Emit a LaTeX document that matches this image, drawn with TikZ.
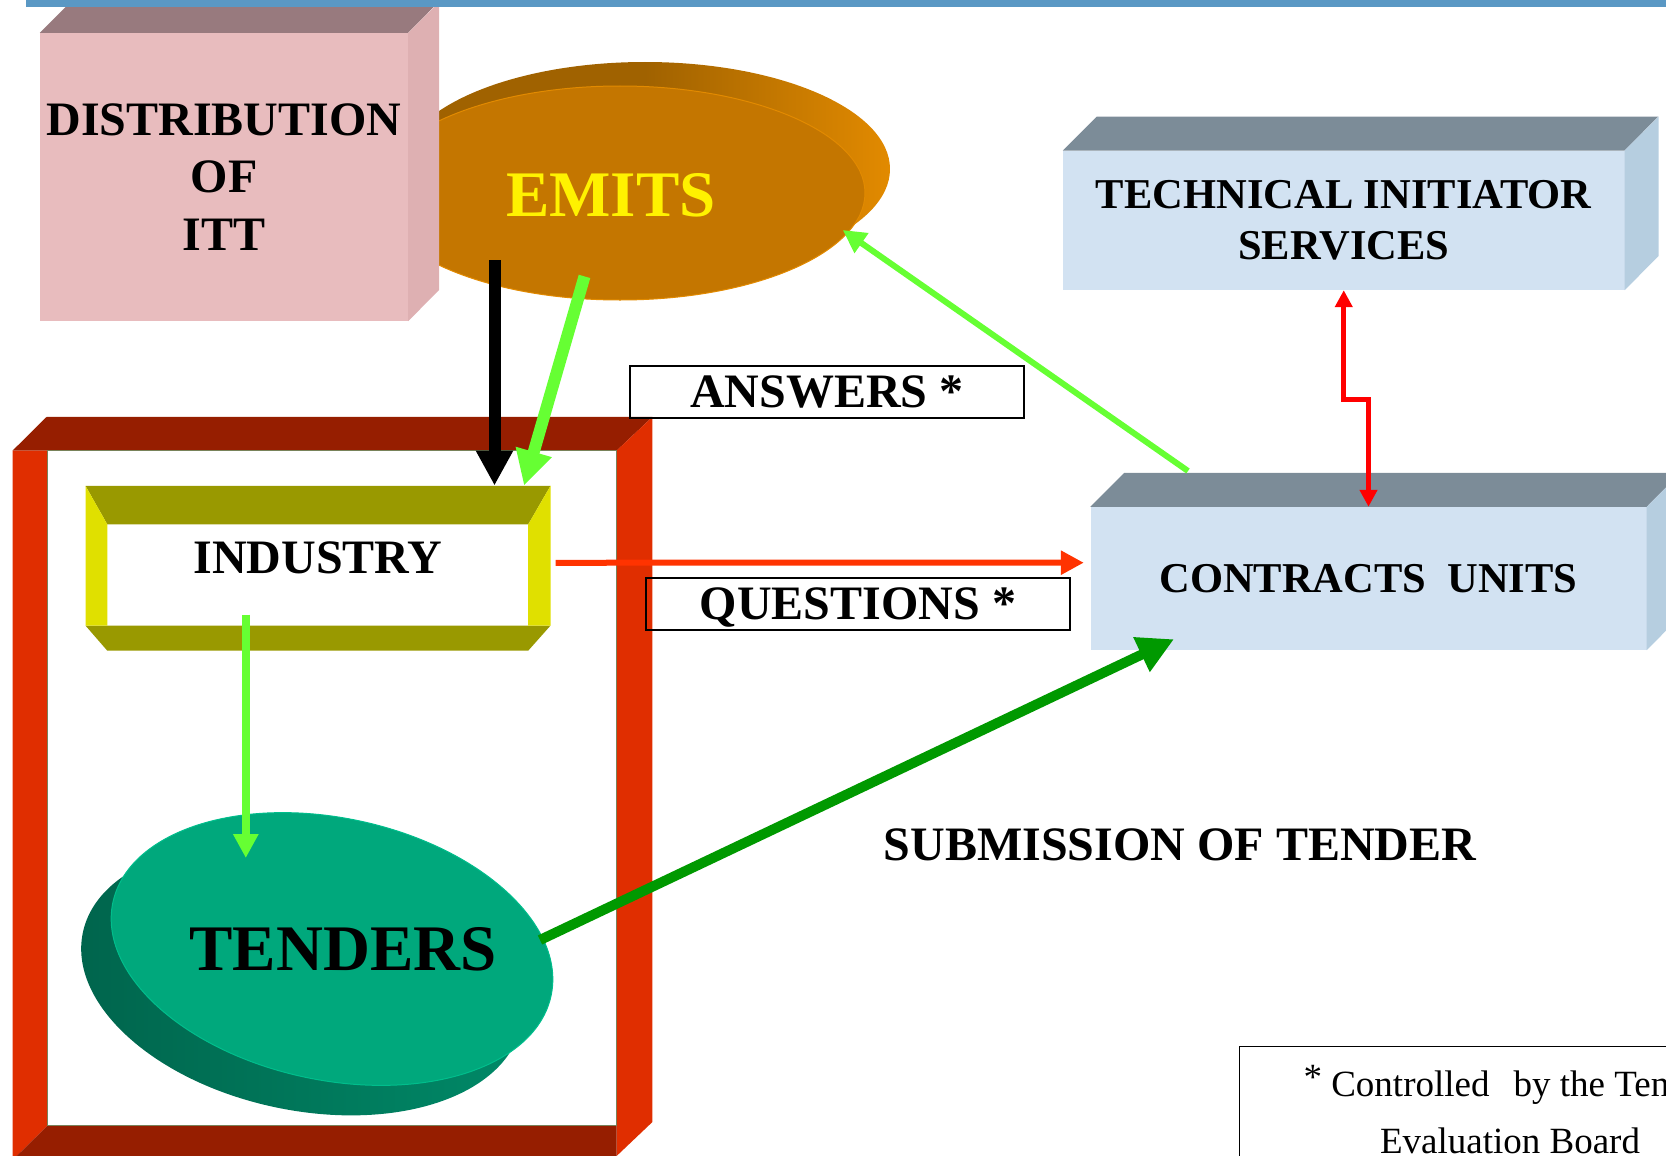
\documentclass[tikz,border=0pt]{standalone}
\usepackage{fontspec}
\setmainfont{Liberation Serif}
\usetikzlibrary{arrows.meta,calc}

\definecolor{barblue}{RGB}{90,152,196}
\definecolor{pinkfront}{RGB}{232,188,190}
\definecolor{pinktop}{RGB}{152,122,126}
\definecolor{pinkside}{RGB}{222,176,178}
\definecolor{bluefront}{RGB}{210,226,242}
\definecolor{bluetop}{RGB}{124,140,152}
\definecolor{blueside}{RGB}{182,206,224}
\definecolor{orangefront}{RGB}{196,118,0}
\definecolor{orangeback}{RGB}{160,98,0}
\definecolor{orangerim}{RGB}{226,138,0}
\definecolor{tealfront}{RGB}{0,168,124}
\definecolor{tealdark}{RGB}{0,100,76}
\definecolor{tealmid}{RGB}{0,138,104}
\definecolor{tealedge}{RGB}{0,190,140}
\definecolor{framelight}{RGB}{224,46,0}
\definecolor{framedark}{RGB}{150,30,0}
\definecolor{frameedge}{RGB}{120,130,90}
\definecolor{olivebevel}{RGB}{153,153,0}
\definecolor{yellowbevel}{RGB}{224,224,0}
\definecolor{lightgreen}{RGB}{102,255,51}
\definecolor{darkgreen}{RGB}{0,153,0}
\definecolor{qred}{RGB}{255,51,0}

\begin{document}
\begin{tikzpicture}[x=1pt, y=-1pt,
  every node/.style = {inner sep=0pt, align=center},
  bigtext/.style = {font=\bfseries\fontsize{65}{78}\selectfont},
  boxtext/.style = {font=\bfseries\fontsize{48}{57.3}\selectfont},
  bluetext/.style = {font=\bfseries\fontsize{42.5}{51}\selectfont},
  tag/.style = {draw, line width=1.8pt, minimum height=52.5pt, text depth=0pt,
    font=\bfseries\fontsize{48}{57}\selectfont},
  hd/.style = {-{Triangle[length=#1, width=#1]}},
  fatlink/.style = {line width=12pt, hd=35pt},
  slimlink/.style = {line width=6pt, hd=23pt}]

  \useasboundingbox (0,0) rectangle (1666,1156);
  \clip (0,0) rectangle (1666,1156);

  % EMITS disc, partly behind the ITT block
  \shade[left color=orangeback, right color=orangerim, middle color=orangeback]
    (645,169) ellipse [x radius=245, y radius=107];
  \filldraw[fill=orangefront, draw=orangerim, line width=1pt]
    (620,193) ellipse [x radius=245, y radius=107];
  \node[bigtext, text=yellow] (emits) at (611,195) {EMITS};

  % DISTRIBUTION OF ITT block
  \node[boxtext, fill=pinkfront, minimum width=368pt, minimum height=288pt]
    (dist) at (224,177) {DISTRIBUTION\\OF\\ITT};
  \fill[pinktop] (dist.north west) -- ++(31,-31) -- ++(368,0) -- (dist.north east) -- cycle;
  \fill[pinkside] (dist.north east) -- ++(31,-31) -- ++(0,288) -- (dist.south east) -- cycle;
  \fill[barblue] (26,0) rectangle (1666,7);

  % blue blocks
  \node[bluetext, fill=bluefront, minimum width=561.5pt, minimum height=139.3pt]
    (tech) at (1343.75,220.35) {TECHNICAL INITIATOR\\SERVICES};
  \fill[bluetop] (tech.north west) -- ++(34,-34) -- ++(561.5,0) -- (tech.north east) -- cycle;
  \fill[blueside] (tech.north east) -- ++(34,-34) -- ++(0,139.3) -- (tech.south east) -- cycle;
  \node[bluetext, fill=bluefront, minimum width=556pt, minimum height=143pt]
    (contracts) at (1368.5,578.5) {CONTRACTS\ \ UNITS};
  \fill[bluetop] (contracts.north west) -- ++(34,-34) -- ++(556,0) -- (contracts.north east) -- cycle;
  \fill[blueside] (contracts.north east) -- ++(34,-34) -- ++(0,143) -- (contracts.south east) -- cycle;

  % red frame round the industry side
  \fill[framedark] (12.6,450.6) -- (46.6,416.9) -- (652.4,416.9) -- (616.6,450.6) -- cycle;
  \fill[framelight] (12.6,450.6) -- (47.6,450.6) -- (47.6,1125.6) -- (12.6,1160) -- cycle;
  \fill[framelight] (616.6,450.6) -- (652.4,416.9) -- (652.4,1122) -- (616.6,1156) -- cycle;
  \fill[framedark] (12.6,1160) -- (47.6,1125.6) -- (616.6,1125.6) -- (616.6,1160) -- cycle;
  \draw[frameedge, line width=1.5pt] (47.6,450.6) rectangle (616.6,1125.6);

  % INDUSTRY bevel
  \node[boxtext, fill=white, minimum width=465pt, minimum height=165pt, text depth=22pt]
    (industry) at (318,568.25) {INDUSTRY};
  \fill[olivebevel] (85.5,485.8) -- (550.5,485.8) -- (528.2,524.4) -- (107.3,524.4) -- cycle;
  \fill[olivebevel] (85.5,625.6) -- (550.5,625.6) -- (528.2,650.7) -- (107.3,650.7) -- cycle;
  \fill[yellowbevel] (85.5,485.8) -- (107.3,524.4) -- (107.3,625.6) -- (85.5,625.6) -- cycle;
  \fill[yellowbevel] (550.5,485.8) -- (550.5,625.6) -- (528.2,625.6) -- (528.2,524.4) -- cycle;

  % TENDERS disc
  \shade[left color=tealdark, right color=tealmid, rotate around={-12:(302,979)}]
    (302,979) ellipse [x radius=224, y radius=131];
  \filldraw[fill=tealfront, draw=tealedge, line width=1pt, rotate around={-12:(332,949)}]
    (332,949) ellipse [x radius=224, y radius=131];
  \node[bigtext] (tenders) at (343,949) {TENDERS};

  % labels
  \node[tag, minimum width=394pt] (answers) at (827,392) {ANSWERS *};
  \node[tag, minimum width=424pt] (questions) at (858,604) {QUESTIONS *};
  \node[boxtext] (submission) at (1180,845) {SUBMISSION OF TENDER};
  \node[draw, line width=1.5pt, inner xsep=64pt, inner ysep=24.7pt, anchor=north,
    font=\fontsize{37}{56.7}\selectfont] (note) at (1510,1045.7)
    {\raisebox{7pt}[0pt][0pt]{*} Controlled\hspace{24pt}by the Tender\\Evaluation Board};

  % connectors
  \draw[fatlink, black] ($(emits)+(-116.5,65)$) -- ($(industry.north)+(176.5,0)$);
  \draw[fatlink, lightgreen] ($(emits)+(-26.5,81.4)$) -- ($(industry.north)+(206,0)$);
  \draw[slimlink, lightgreen] ($(contracts)+(-180.5,-107.5)$) -- ($(emits)+(231.7,35)$);
  \draw[slimlink, qred] ($(industry.east)+(5,-5.5)$) -- ($(contracts.west)+(-6.5,-15.8)$);
  \draw[lightgreen, line width=7.5pt, hd=24pt] ($(industry)+(-72.2,46.4)$) -- ($(tenders)+(-97.2,-91)$);
  \draw[darkgreen, line width=10pt, hd=36pt] ($(tenders)+(197,-9)$) -- ($(contracts.south)+(-194.5,-11)$);
  \draw[red, line width=5pt, {Triangle[length=17pt,width=17pt]}-{Triangle[length=17pt,width=17pt]}]
    (tech.south) -- ++(0,109) -| (contracts.north);
\end{tikzpicture}
\end{document}
